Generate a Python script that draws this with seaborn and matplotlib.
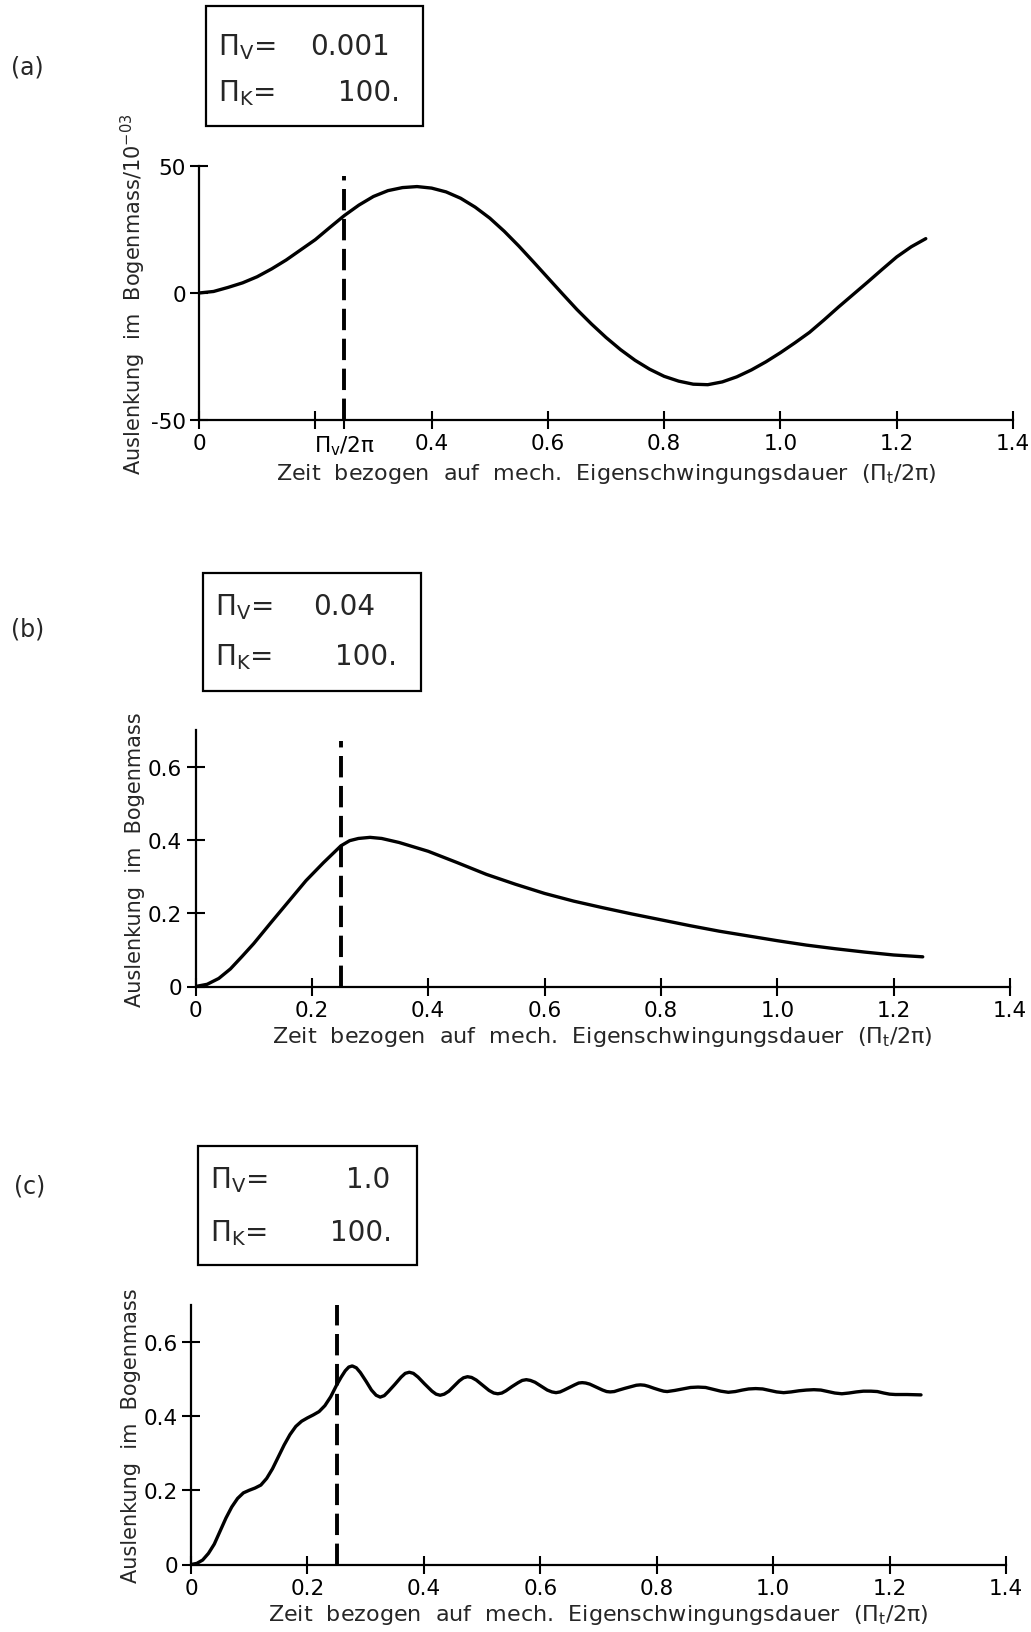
import numpy as np
import pandas as pd
import matplotlib
matplotlib.use('Agg')
import matplotlib.pyplot as plt
import seaborn as sns
from matplotlib.patches import Rectangle

## Values
# (a) Pi_V = 0.001, deflection in 1e-3 rad
x_a = [0, 0.025, 0.05, 0.075, 0.10, 0.125, 0.15, 0.175, 0.20, 0.225, 0.25, 0.275, 0.30, 0.325,
       0.35, 0.375, 0.40, 0.425, 0.45, 0.475, 0.50, 0.525, 0.55, 0.575, 0.60, 0.625, 0.65, 0.675,
       0.70, 0.725, 0.75, 0.775, 0.80, 0.825, 0.85, 0.875, 0.90, 0.925, 0.95, 0.975, 1.00, 1.025,
       1.05, 1.075, 1.10, 1.125, 1.15, 1.175, 1.20, 1.225, 1.25]
y_a = [0, 0.6, 2.2, 4.0, 6.4, 9.5, 13.0, 17.0, 21.0, 25.8, 30.5, 34.6, 38.0, 40.3,
       41.5, 41.9, 41.3, 39.8, 37.3, 33.8, 29.5, 24.3, 18.5, 12.3, 6.0, -0.3, -6.5, -12.2,
       -17.5, -22.3, -26.5, -30.0, -32.8, -34.7, -35.9, -36.1, -35.0, -33.0, -30.3, -27.1, -23.5, -19.6,
       -15.5, -10.6, -5.5, -0.6, 4.3, 9.3, 14.2, 18.2, 21.4]

# (b) Pi_V = 0.04
x_b = [0, 0.02, 0.04, 0.06, 0.08, 0.10, 0.13, 0.16, 0.19, 0.22, 0.25, 0.265, 0.28, 0.30,
       0.32, 0.35, 0.40, 0.45, 0.50, 0.55, 0.60, 0.65, 0.70, 0.75, 0.80, 0.85, 0.90, 0.95,
       1.00, 1.05, 1.10, 1.15, 1.20, 1.25]
y_b = [0, 0.006, 0.022, 0.048, 0.082, 0.117, 0.175, 0.232, 0.289, 0.338, 0.384, 0.398, 0.404, 0.407,
       0.404, 0.393, 0.369, 0.338, 0.306, 0.279, 0.254, 0.233, 0.215, 0.198, 0.182, 0.166, 0.151, 0.138,
       0.125, 0.113, 0.103, 0.094, 0.086, 0.081]

# (c) Pi_V = 1.0
x_c = [0, 0.01, 0.02, 0.03, 0.04, 0.05, 0.06, 0.07, 0.08, 0.09, 0.10, 0.11, 0.12, 0.13, 0.14,
       0.15, 0.16, 0.17, 0.18, 0.19, 0.20, 0.21, 0.22, 0.23, 0.24,
       0.25, 0.258, 0.265, 0.271, 0.277, 0.284, 0.291, 0.301, 0.310, 0.318, 0.325,
       0.332, 0.339, 0.350, 0.361, 0.368, 0.375,
       0.382, 0.390, 0.401, 0.414, 0.421, 0.428,
       0.435, 0.443, 0.452, 0.461, 0.468, 0.475,
       0.482, 0.490, 0.501, 0.512, 0.520, 0.527,
       0.534, 0.541, 0.551, 0.562, 0.569, 0.576,
       0.583, 0.591, 0.601, 0.612, 0.620, 0.627,
       0.634, 0.641, 0.650, 0.659, 0.666, 0.672,
       0.678, 0.685, 0.696, 0.707, 0.714, 0.720,
       0.727, 0.735, 0.746, 0.758, 0.765, 0.772,
       0.779, 0.786, 0.795, 0.805, 0.812, 0.818,
       0.831, 0.845, 0.858, 0.871,
       0.884, 0.897, 0.910, 0.923,
       0.935, 0.947, 0.958, 0.970,
       0.982, 0.994, 1.006, 1.018,
       1.031, 1.044, 1.057, 1.070,
       1.082, 1.094, 1.106, 1.118,
       1.130, 1.143, 1.155, 1.168,
       1.179, 1.190, 1.200, 1.210,
       1.230, 1.254]
y_c = [0, 0.003, 0.012, 0.030, 0.055, 0.090, 0.125, 0.155, 0.178, 0.193, 0.200, 0.206, 0.214, 0.232, 0.258,
       0.290, 0.322, 0.350, 0.372, 0.386, 0.395, 0.403, 0.412, 0.428, 0.452,
       0.483, 0.505, 0.522, 0.532, 0.535, 0.530, 0.517, 0.493, 0.470, 0.456, 0.451,
       0.455, 0.466, 0.485, 0.505, 0.515, 0.518,
       0.515, 0.505, 0.487, 0.467, 0.459, 0.456,
       0.459, 0.467, 0.481, 0.495, 0.503, 0.506,
       0.504, 0.497, 0.483, 0.469, 0.462, 0.460,
       0.462, 0.468, 0.479, 0.490, 0.496, 0.498,
       0.496, 0.491, 0.481, 0.470, 0.465, 0.463,
       0.465, 0.470, 0.477, 0.484, 0.489, 0.490,
       0.489, 0.486, 0.478, 0.470, 0.466, 0.465,
       0.466, 0.470, 0.475, 0.480, 0.483, 0.484,
       0.483, 0.480, 0.475, 0.470, 0.467, 0.466,
       0.469, 0.473, 0.477, 0.478,
       0.477, 0.472, 0.467, 0.464,
       0.466, 0.470, 0.473, 0.474,
       0.473, 0.469, 0.465, 0.463,
       0.465, 0.468, 0.470, 0.471,
       0.470, 0.466, 0.462, 0.460,
       0.462, 0.465, 0.467, 0.467,
       0.466, 0.462, 0.459, 0.458,
       0.458, 0.457]

panel_tags = ['(a)', '(b)', '(c)']
pi_v_values = ['0.001', '0.04', '1.0']
pi_k_values = ['100.', '100.', '100.']
dash_x = 0.25
dash_lo = [-50, 0, 0]
dash_hi = [46, 0.67, 0.705]
ylims = [(-50, 50), (0, 0.7), (0, 0.7)]
yticks = [[-50, 0, 50], [0, 0.2, 0.4, 0.6], [0, 0.2, 0.4, 0.6]]
ytick_labels = [['-50', '0', '50'], ['0', '0.2', '0.4', '0.6'], ['0', '0.2', '0.4', '0.6']]
xticks = [0, 0.2, 0.4, 0.6, 0.8, 1.0, 1.2, 1.4]
xtick_labels = ['0', '0.2', '0.4', '0.6', '0.8', '1.0', '1.2', '1.4']
ylabels = ['Auslenkung  im  Bogenmass/10$^{-03}$', 'Auslenkung  im  Bogenmass', 'Auslenkung  im  Bogenmass']
xlabel = 'Zeit  bezogen  auf  mech.  Eigenschwingungsdauer  ($\\Pi_t/2\\pi$)'

## Layout (pixels of the 1031x1633 page)
W, H = 1031, 1633
axes_px = [(199, 1013, 167, 421), (195.5, 1010, 731, 987.5), (191, 1006, 1305.7, 1565.5)]
tag_px = [(27, 67), (28, 630), (30, 1187)]
box_px = [(206, 423, 7, 127), (203, 421, 574, 692), (198, 417, 1147, 1266)]
line_y = [(47, 93), (607, 657), (1180, 1233)]
val_right = [(390, 400), (375, 397), (390, 392)]

sns.set_style('white')
plt.rcParams['font.family'] = ['DejaVu Sans']
plt.rcParams['mathtext.default'] = 'regular'
plt.rcParams['axes.unicode_minus'] = False

fig = plt.figure(figsize=(W / 100, H / 100), dpi=100)

series = [(x_a, y_a), (x_b, y_b), (x_c, y_c)]
for i in range(3):
    l, r, t, b = axes_px[i]
    ax = fig.add_axes([l / W, 1 - b / H, (r - l) / W, (b - t) / H])
    df = pd.DataFrame({'t': series[i][0], 'y': series[i][1]})
    sns.lineplot(data=df, x='t', y='y', ax=ax, color='black', linewidth=2.4)
    ax.plot([dash_x, dash_x], [dash_lo[i], dash_hi[i]], color='black', linewidth=2.8,
            dashes=(5.5, 2.2))
    ax.set_xlim(0, 1.4)
    ax.set_ylim(*ylims[i])
    if i == 0:
        ax.set_xticks(xticks[:2] + [dash_x] + xticks[2:])
        ax.set_xticklabels(['0', '', '$\\Pi_v/2\\pi$'] + xtick_labels[2:])
    else:
        ax.set_xticks(xticks)
        ax.set_xticklabels(xtick_labels)
    ax.set_yticks(yticks[i])
    ax.set_yticklabels(ytick_labels[i])
    for s in ['top', 'right']:
        ax.spines[s].set_visible(False)
    for s in ['left', 'bottom']:
        ax.spines[s].set_linewidth(1.6)
        ax.spines[s].set_color('black')
    ax.tick_params(bottom=True, left=True, direction='inout', length=13, width=1.5,
                   labelsize=15.5, pad=3, colors='black')
    ax.set_xlabel(xlabel, fontsize=16, labelpad=3)
    ax.set_ylabel(ylabels[i], fontsize=15, labelpad=2)
    ax.patch.set_alpha(0)

    # parameter box
    bl, br, bt, bb = box_px[i]
    fig.patches.append(Rectangle((bl / W, 1 - bb / H), (br - bl) / W, (bb - bt) / H,
                                 transform=fig.transFigure, fill=False,
                                 edgecolor='black', linewidth=1.6))
    fig.text((bl + 12) / W, 1 - line_y[i][0] / H, '$\\Pi_V$=', fontsize=20, va='center', ha='left')
    fig.text((bl + 12) / W, 1 - line_y[i][1] / H, '$\\Pi_K$=', fontsize=20, va='center', ha='left')
    fig.text(val_right[i][0] / W, 1 - line_y[i][0] / H, pi_v_values[i], fontsize=20, va='center', ha='right')
    fig.text(val_right[i][1] / W, 1 - line_y[i][1] / H, pi_k_values[i], fontsize=20, va='center', ha='right')
    fig.text(tag_px[i][0] / W, 1 - tag_px[i][1] / H, panel_tags[i], fontsize=17, va='center', ha='center')

plt.savefig('out.png', dpi=100)
